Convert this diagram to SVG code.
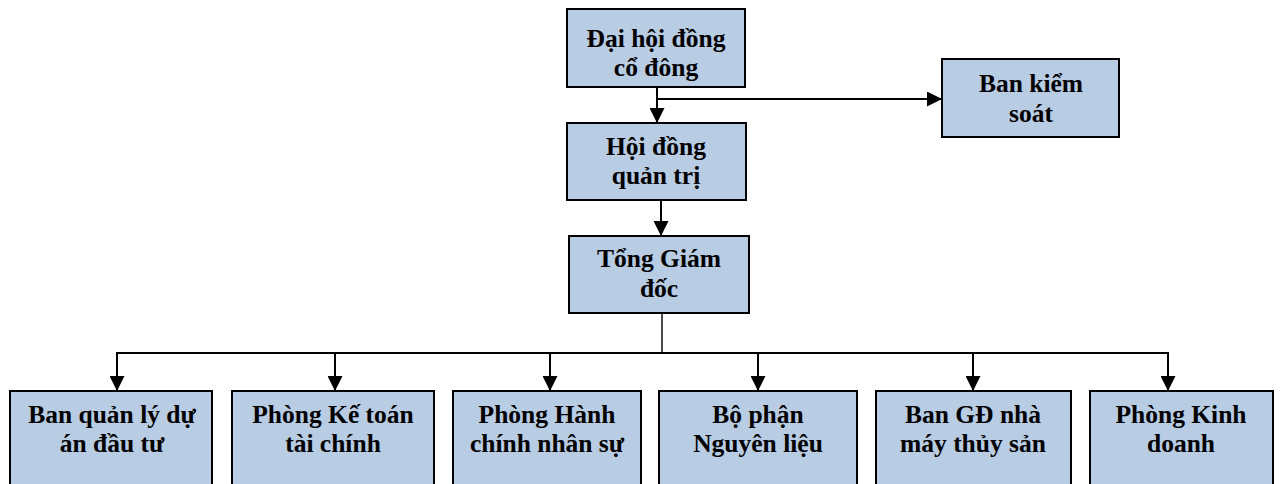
<svg xmlns="http://www.w3.org/2000/svg" width="1280" height="484" viewBox="0 0 1280 484">
<style>
.box{fill:#B8CCE4;stroke:#000;stroke-width:2}
.t{font-family:"Liberation Serif","Times New Roman",serif;font-weight:bold;font-size:25.5px;fill:#000;text-anchor:middle}
.c{stroke:#000;stroke-width:2;fill:none}
</style>
<defs>
<marker id="ah" markerWidth="15" markerHeight="15" refX="14" refY="7.5" orient="auto" markerUnits="userSpaceOnUse">
<path d="M0,0 L15,7.5 L0,15 Z" fill="#000"/>
</marker>
</defs>
<rect width="1280" height="484" fill="#fff"/>
<g id="connectors">
<line class="c" x1="657" y1="87" x2="657" y2="122" marker-end="url(#ah)"/>
<line class="c" x1="657" y1="99" x2="941" y2="99" marker-end="url(#ah)"/>
<line class="c" x1="661" y1="200" x2="661" y2="235" marker-end="url(#ah)"/>
<line class="c" x1="662" y1="313" x2="662" y2="353" style="stroke-width:1.4"/>
<line class="c" x1="116" y1="353" x2="1169" y2="353"/>
<line class="c" x1="117" y1="353" x2="117" y2="390" marker-end="url(#ah)"/>
<line class="c" x1="335" y1="353" x2="335" y2="390" marker-end="url(#ah)"/>
<line class="c" x1="550" y1="353" x2="550" y2="390" marker-end="url(#ah)"/>
<line class="c" x1="758" y1="353" x2="758" y2="390" marker-end="url(#ah)"/>
<line class="c" x1="973" y1="353" x2="973" y2="390" marker-end="url(#ah)"/>
<line class="c" x1="1168" y1="353" x2="1168" y2="390" marker-end="url(#ah)"/>
</g>
<g id="dhdcd"><rect class="box" x="567" y="9" width="178" height="78"/><text class="t" x="656" y="47">Đại hội đồng</text><text class="t" x="656" y="76">cổ đông</text></g>
<g id="bks"><rect class="box" x="942" y="59" width="177" height="78"/><text class="t" x="1031" y="92">Ban kiểm</text><text class="t" x="1031" y="122">soát</text></g>
<g id="hdqt"><rect class="box" x="567" y="123" width="179" height="77"/><text class="t" x="656" y="155">Hội đồng</text><text class="t" x="656" y="184">quản trị</text></g>
<g id="tgd"><rect class="box" x="569" y="236" width="180" height="77"/><text class="t" x="659" y="267">Tổng Giám</text><text class="t" x="659" y="297">đốc</text></g>
<g id="bqlda"><rect class="box" x="10" y="391" width="202" height="100"/><text class="t" x="112" y="423">Ban quản lý dự</text><text class="t" x="112" y="452">án đầu tư</text></g>
<g id="pktc"><rect class="box" x="232" y="391" width="202" height="100"/><text class="t" x="333" y="423">Phòng Kế toán</text><text class="t" x="333" y="452">tài chính</text></g>
<g id="phcns"><rect class="box" x="453" y="391" width="188" height="100"/><text class="t" x="547" y="423">Phòng Hành</text><text class="t" x="547" y="452">chính nhân sự</text></g>
<g id="bpnl"><rect class="box" x="659" y="391" width="198" height="100"/><text class="t" x="758" y="423">Bộ phận</text><text class="t" x="758" y="452">Nguyên liệu</text></g>
<g id="bgdnm"><rect class="box" x="876" y="391" width="195" height="100"/><text class="t" x="973" y="423">Ban GĐ nhà</text><text class="t" x="973" y="452">máy thủy sản</text></g>
<g id="pkd"><rect class="box" x="1090" y="391" width="183" height="100"/><text class="t" x="1181" y="423">Phòng Kinh</text><text class="t" x="1181" y="452">doanh</text></g>
</svg>
